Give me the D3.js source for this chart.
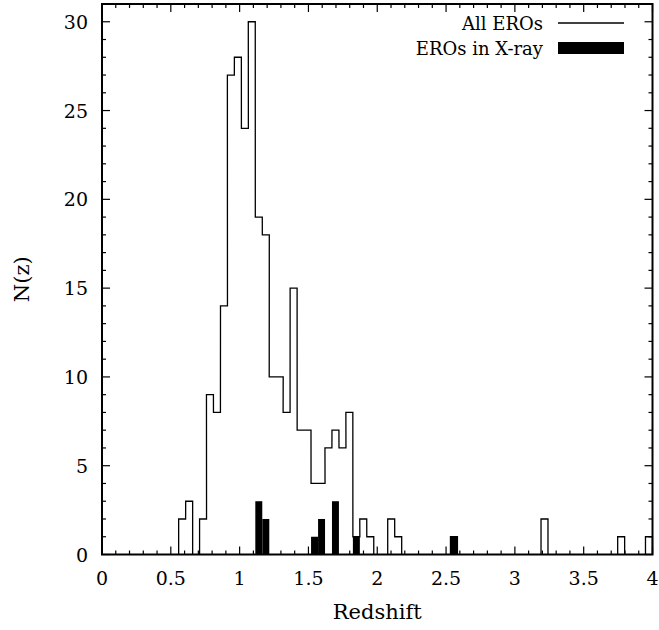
<!DOCTYPE html>
<html>
<head>
<meta charset="utf-8">
<script src="https://cdn.jsdelivr.net/npm/d3@7"></script>
<style>
  html, body { margin: 0; padding: 0; background: #fff; }
  svg { display: block; }
  svg text { font-family: "DejaVu Serif", serif; fill: #000; }
</style>
</head>
<body>
<svg id="chart" width="659" height="630"></svg>
<script>
// ---- data ----
const binWidth = 0.0506;
const binStart = [0.557,0.608,0.709,0.759,0.810,0.861,0.911,0.962,1.013,1.063,1.114,1.165,1.215,1.266,1.316,1.367,1.418,1.468,1.519,1.570,1.620,1.671,1.722,1.772,1.823,1.873,1.924,2.076,2.127,2.532,3.190,3.747,3.949];
const allEROs  = [2,3,2,9,8,14,27,28,24,30,19,18,10,10,8,15,7,7,4,4,6,7,6,8,1,2,1,2,1,1,2,1,1];
const xrayStart = [1.114,1.165,1.519,1.570,1.671,1.823,2.532];
const xrayEROs  = [3,2,1,2,3,1,1];
const xTickLabels = ["0","0.5","1","1.5","2","2.5","3","3.5","4"];
const yTickLabels = ["0","5","10","15","20","25","30"];
const legendLabels = ["All EROs","EROs in X-ray"];

// ---- layout ----
const svg = d3.select("#chart");
const L = 102, R = 652.5, T = 4, B = 554.5;
const x = d3.scaleLinear().domain([0, 4]).range([L, R]);
const y = d3.scaleLinear().domain([0, 31]).range([B, T]);
const tickFs = 19, titleFs = 21, legFs = 18;

// X-ray filled bars
svg.append("g").selectAll("rect").data(xrayStart).join("rect")
  .attr("x", (d) => x(d))
  .attr("width", (d) => x(d + binWidth) - x(d))
  .attr("y", (d, i) => y(xrayEROs[i]))
  .attr("height", (d, i) => y(0) - y(xrayEROs[i]))
  .attr("fill", "#000");

// All EROs step outline
let p = d3.path();
let prevEnd = null;
binStart.forEach((z, i) => {
  const x0 = x(z), x1 = x(z + binWidth), yy = y(allEROs[i]);
  if (prevEnd !== null && Math.abs(z - prevEnd) < binWidth / 2) {
    p.lineTo(x0, yy);
  } else {
    if (prevEnd !== null) p.lineTo(x(prevEnd), y(0));
    p.moveTo(x0, y(0));
    p.lineTo(x0, yy);
  }
  p.lineTo(x1, yy);
  prevEnd = z + binWidth;
});
p.lineTo(x(prevEnd), y(0));
svg.append("path").attr("d", p.toString())
  .attr("fill", "none").attr("stroke", "#000").attr("stroke-width", 1.3);

// ticks (inward, mirrored on all sides)
const tk = svg.append("g").attr("stroke", "#000").attr("stroke-width", 1.2);
d3.range(0, 41).map(i => i / 10).forEach(v => {
  const major = Math.abs(v * 2 - Math.round(v * 2)) < 1e-6;
  const len = major ? 8 : 4;
  tk.append("line").attr("x1", x(v)).attr("x2", x(v)).attr("y1", B).attr("y2", B - len);
  tk.append("line").attr("x1", x(v)).attr("x2", x(v)).attr("y1", T).attr("y2", T + len);
});
d3.range(0, 31).forEach(v => {
  const len = v % 5 === 0 ? 8 : 4;
  tk.append("line").attr("y1", y(v)).attr("y2", y(v)).attr("x1", L).attr("x2", L + len);
  tk.append("line").attr("y1", y(v)).attr("y2", y(v)).attr("x1", R).attr("x2", R - len);
});

// frame
svg.append("rect").attr("x", L).attr("y", T).attr("width", R - L).attr("height", B - T)
  .attr("fill", "none").attr("stroke", "#000").attr("stroke-width", 2);

// tick labels
svg.append("g").selectAll("text").data(xTickLabels).join("text")
  .attr("x", d => x(+d)).attr("y", 585)
  .attr("text-anchor", "middle").attr("font-size", tickFs).text(d => d);
svg.append("g").selectAll("text").data(yTickLabels).join("text")
  .attr("x", 88).attr("y", d => y(+d) + 7)
  .attr("text-anchor", "end").attr("font-size", tickFs).text(d => d);

// axis titles
svg.append("text").attr("x", (L + R) / 2).attr("y", 619)
  .attr("text-anchor", "middle").attr("font-size", titleFs).text("Redshift");
svg.append("text").attr("transform", `translate(29,${(T + B) / 2}) rotate(-90)`)
  .attr("text-anchor", "middle").attr("font-size", titleFs).text("N(z)");

// legend
const lg = svg.append("g");
lg.append("text").attr("x", 543).attr("y", 23 + 6.5).attr("text-anchor", "end")
  .attr("font-size", legFs).text(legendLabels[0]);
lg.append("line").attr("x1", 558).attr("x2", 624).attr("y1", 23).attr("y2", 23)
  .attr("stroke", "#000").attr("stroke-width", 1.3);
lg.append("text").attr("x", 543).attr("y", 48 + 6.5).attr("text-anchor", "end")
  .attr("font-size", legFs).text(legendLabels[1]);
lg.append("rect").attr("x", 558).attr("y", 42).attr("width", 66).attr("height", 12)
  .attr("fill", "#000");
</script>
</body>
</html>
